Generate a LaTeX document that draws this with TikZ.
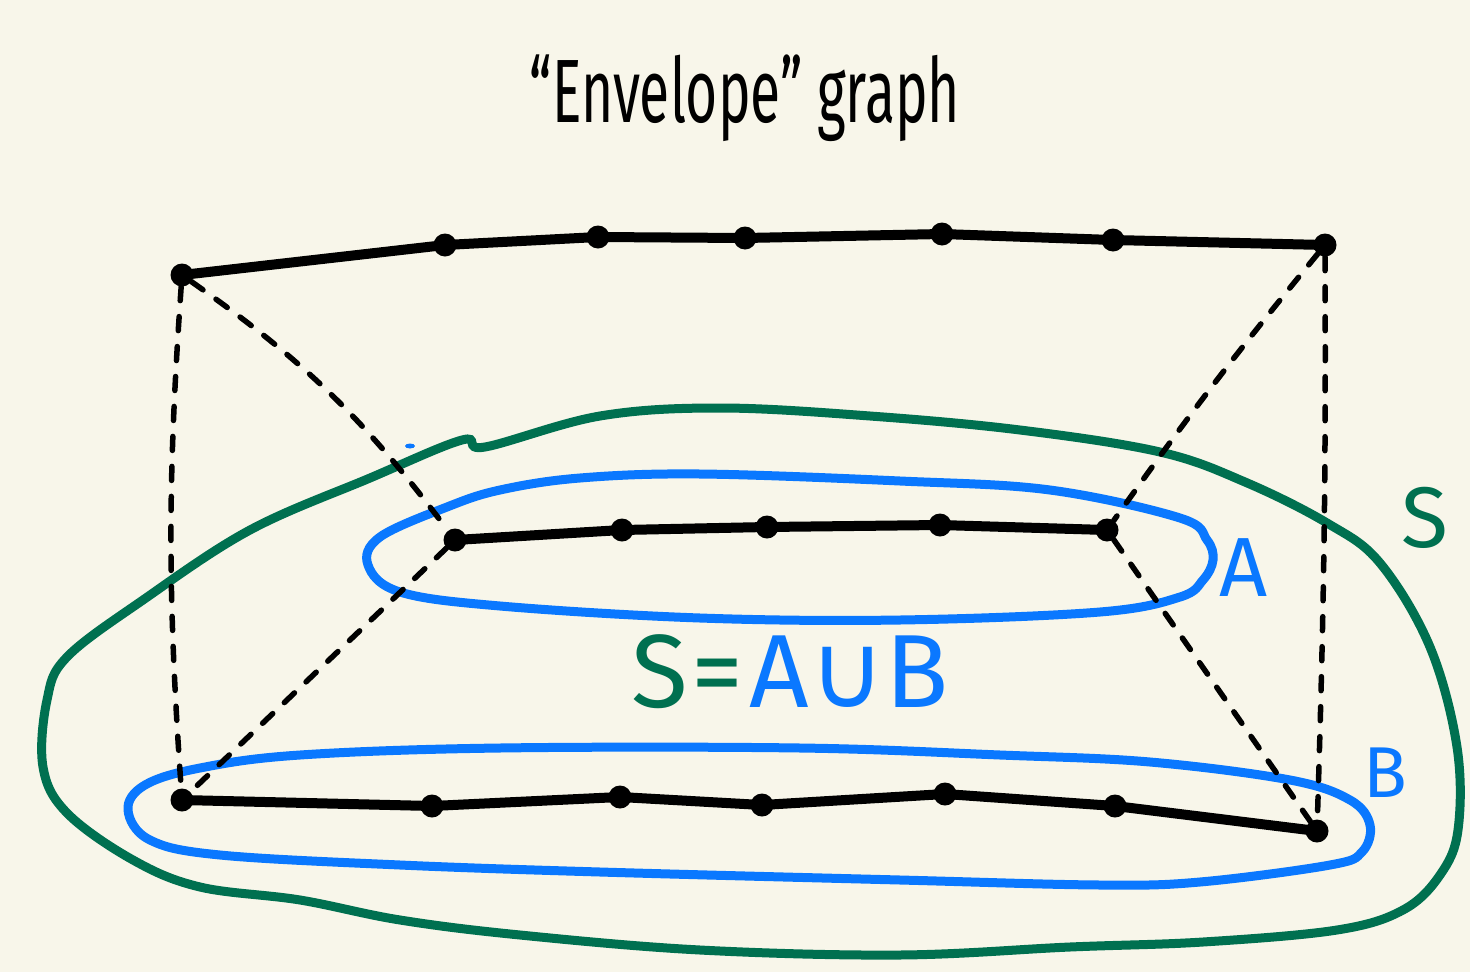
\documentclass[tikz,border=0pt]{standalone}
\usepackage{fontspec}
\setmainfont{Fira Sans}
\newfontfamily\symfont{DejaVu Sans}
\definecolor{bg}{HTML}{F8F6EA}
\definecolor{sgreen}{HTML}{007050}
\definecolor{ablue}{HTML}{0A78FF}
\tikzset{
  vtx/.style={circle,fill=black,inner sep=0pt,minimum size=23pt},
  edge/.style={line width=10pt,line cap=round,line join=round},
  dashedge/.style={line width=5.5pt,line cap=round,dash pattern=on 14pt off 16pt},
  setS/.style={draw=sgreen,line width=9pt},
  setAB/.style={draw=ablue,line width=9pt},
}
\begin{document}
\begin{tikzpicture}[x=1pt,y=-1pt]
\useasboundingbox[fill=bg] (0,0) rectangle (1470,972);

% title
\node (title) at (745,98) {\scalebox{0.95}[1.55]{\fontsize{58}{60}\selectfont “Envelope” graph}};

% set S
\draw[setS] plot[smooth cycle,tension=0.6] coordinates {
 (143,600) (250,530) (370,478) (462,440) (485,447) (600,416) (720,408) (870,416)
 (1020,430) (1160,452) (1245,482) (1327,523) (1380,563) (1430,647) (1457,747)
 (1458,830) (1440,875) (1403,910) (1337,930) (1203,942) (1070,947) (900,955)
 (700,950) (520,935) (400,920) (300,900) (200,887) (133,860) (67,813) (43,767)
 (47,700) (67,657)};

% set A
\draw[setAB] plot[smooth cycle,tension=0.6] coordinates {
 (368,565) (380,537) (447,507) (500,490) (580,478) (700,474) (900,481) (1050,490)
 (1180,518) (1207,540) (1213,560) (1203,580) (1180,597) (1100,612) (900,620)
 (700,618) (500,606) (400,592)};

% set B
\draw[setAB] plot[smooth cycle,tension=0.6] coordinates {
 (128,810) (145,785) (200,768) (300,755) (500,748) (800,748) (1000,755)
 (1150,762) (1290,780) (1350,800) (1370,825) (1362,852) (1330,865) (1200,882)
 (1100,885) (900,880) (600,872) (400,865) (220,855) (150,840)};
\fill[ablue] (410,446) ellipse (5pt and 2.5pt);

% vertices
\node[vtx] (t1) at (182,275) {};
\node[vtx] (t2) at (445,245) {};
\node[vtx] (t3) at (598,237) {};
\node[vtx] (t4) at (745,238) {};
\node[vtx] (t5) at (942,234) {};
\node[vtx] (t6) at (1113,240) {};
\node[vtx] (t7) at (1325,245) {};
\node[vtx] (m1) at (455,540) {};
\node[vtx] (m2) at (622,530) {};
\node[vtx] (m3) at (767,527) {};
\node[vtx] (m4) at (940,525) {};
\node[vtx] (m5) at (1107,530) {};
\node[vtx] (b1) at (182,800) {};
\node[vtx] (b2) at (432,806) {};
\node[vtx] (b3) at (620,797) {};
\node[vtx] (b4) at (762,805) {};
\node[vtx] (b5) at (945,794) {};
\node[vtx] (b6) at (1115,806) {};
\node[vtx] (b7) at (1317,831) {};

% solid paths
\draw[edge] (t1.center) -- (t2.center) -- (t3.center) -- (t4.center) -- (t5.center) -- (t6.center) -- (t7.center);
\draw[edge] (m1.center) -- (m2.center) -- (m3.center) -- (m4.center) -- (m5.center);
\draw[edge] (b1.center) -- (b2.center) -- (b3.center) -- (b4.center) -- (b5.center) -- (b6.center) -- (b7.center);

% dashed connectors
\draw[dashedge] (t1) to[bend right=4] (b1);
\draw[dashedge] (t1) to[bend left=9] (m1);
\draw[dashedge] (m1) -- (b1);
\draw[dashedge] (t7) to[bend right=2] (m5);
\draw[dashedge] (m5) -- (b7);
\draw[dashedge] (t7) to[bend left=1] (b7);

% labels
\node[text=sgreen,font=\fontsize{86}{86}\selectfont] (Slab) at (1425,518) {S};
\node[text=ablue,font=\fontsize{84}{84}\selectfont] (Alab) at (1244,568) {A};
\node[text=ablue,font=\fontsize{72}{72}\selectfont] (Blab) at (1385,773) {B};
\node[font=\fontsize{104}{104}\selectfont,inner sep=0pt] (eq) at (790,672)
  {\textcolor{sgreen}{S\kern4pt=\kern6pt}\textcolor{ablue}{A{\symfont ∪}B}};
\end{tikzpicture}
\end{document}
